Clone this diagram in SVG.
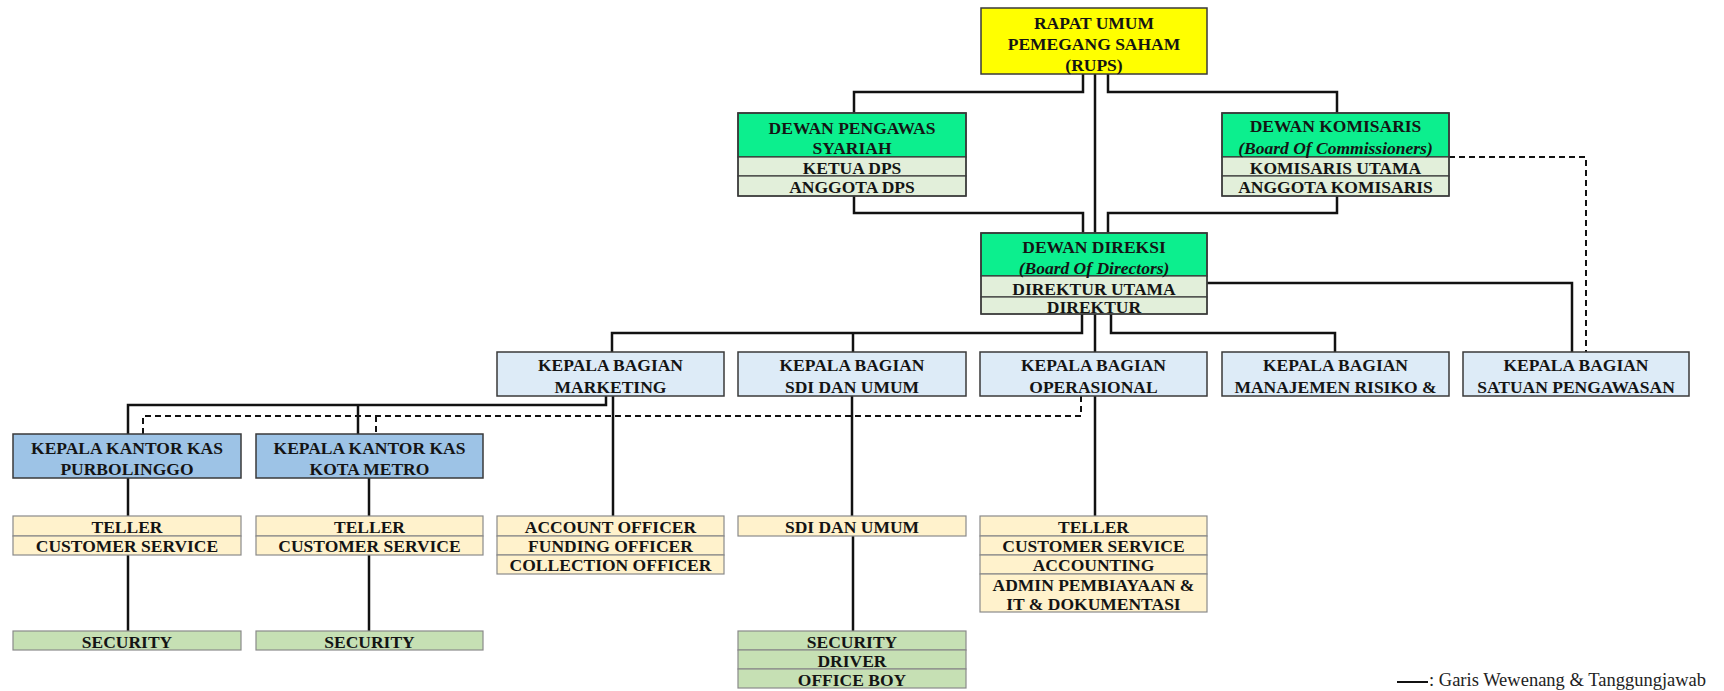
<svg xmlns="http://www.w3.org/2000/svg" width="1724" height="691" viewBox="0 0 1724 691">
<style>
.t{font-family:"Liberation Serif","Times New Roman",serif;font-size:17.5px;font-weight:bold;fill:#141414;text-anchor:middle}
.i{font-style:italic}
.hd{stroke:#3a3a3a;stroke-width:1.5}
.rw{stroke:#8a8a8a;stroke-width:1.2}
.rd{stroke:#3a3a3a;stroke-width:1.2}
.y{fill:#FFFF00}
.g{fill:#0CEF8E}
.lg{fill:#E2EFDA}
.lb{fill:#DDEBF7}
.mb{fill:#9DC3E6}
.ly{fill:#FFF2CC}
.sg{fill:#C6E0B4}
.c{fill:none;stroke:#111;stroke-width:2.5}
.d{fill:none;stroke:#111;stroke-width:2;stroke-dasharray:6 4}
.lgd{font-family:"Liberation Serif","Times New Roman",serif;font-size:18.5px;fill:#222}
</style>
<rect width="1724" height="691" fill="#fff"/>

<g id="connectors">
<path class="c" d="M1083 74 V92 H854 V113"/>
<path class="c" d="M1095 74 V233"/>
<path class="c" d="M1108 74 V92 H1337 V113"/>
<path class="c" d="M854 196 V213 H1083 V233"/>
<path class="c" d="M1337 196 V213 H1108 V233"/>
<path class="d" d="M1449 157 H1586 V352"/>
<path class="c" d="M1207 283 H1572 V352"/>
<path class="c" d="M1082 314 V333 H612 V352"/>
<path class="c" d="M853 333 V352"/>
<path class="c" d="M1095 314 V352"/>
<path class="c" d="M1111 314 V333 H1335 V352"/>
<path class="c" d="M606 396 V405 H128 V434"/>
<path class="c" d="M358 405 V434"/>
<path class="d" d="M1081 396 V416 H143 V434"/>
<path class="d" d="M376 416 V434"/>
<path class="c" d="M128 478 V516"/>
<path class="c" d="M128 555 V631"/>
<path class="c" d="M369 478 V516"/>
<path class="c" d="M369 555 V631"/>
<path class="c" d="M613 396 V516"/>
<path class="c" d="M852 396 V516"/>
<path class="c" d="M853 536 V631"/>
<path class="c" d="M1095 396 V516"/>
</g>

<g id="rups">
<rect class="y hd" x="981" y="8" width="226" height="66"/>
<text class="t" x="1094" y="29">RAPAT UMUM</text>
<text class="t" x="1094" y="50">PEMEGANG SAHAM</text>
<text class="t" x="1094" y="71">(RUPS)</text>
</g>

<g id="dps">
<rect class="g hd" x="738" y="113" width="228" height="44"/>
<rect class="lg rd" x="738" y="157" width="228" height="19"/>
<rect class="lg rd" x="738" y="176" width="228" height="20"/>
<rect fill="none" class="hd" x="738" y="113" width="228" height="83"/>
<text class="t" x="852" y="134">DEWAN PENGAWAS</text>
<text class="t" x="852" y="154">SYARIAH</text>
<text class="t" x="852" y="174">KETUA DPS</text>
<text class="t" x="852" y="193">ANGGOTA DPS</text>
</g>

<g id="komisaris">
<rect class="g hd" x="1222" y="113" width="227" height="44"/>
<rect class="lg rd" x="1222" y="157" width="227" height="19"/>
<rect class="lg rd" x="1222" y="176" width="227" height="20"/>
<rect fill="none" class="hd" x="1222" y="113" width="227" height="83"/>
<text class="t" x="1335.5" y="132">DEWAN KOMISARIS</text>
<text class="t i" x="1335.5" y="154">(Board Of Commissioners)</text>
<text class="t" x="1335.5" y="174">KOMISARIS UTAMA</text>
<text class="t" x="1335.5" y="193">ANGGOTA KOMISARIS</text>
</g>

<g id="direksi">
<rect class="g hd" x="981" y="233" width="226" height="43"/>
<rect class="lg rd" x="981" y="276" width="226" height="21"/>
<rect class="lg rd" x="981" y="297" width="226" height="17"/>
<rect fill="none" class="hd" x="981" y="233" width="226" height="81"/>
<text class="t" x="1094" y="253">DEWAN DIREKSI</text>
<text class="t i" x="1094" y="274">(Board Of Directors)</text>
<text class="t" x="1094" y="295">DIREKTUR UTAMA</text>
<text class="t" x="1094" y="313">DIREKTUR</text>
</g>

<g id="kb-marketing">
<rect class="lb hd" x="497" y="352" width="227" height="44"/>
<text class="t" x="610.5" y="371">KEPALA BAGIAN</text>
<text class="t" x="610.5" y="393">MARKETING</text>
</g>
<g id="kb-sdi">
<rect class="lb hd" x="738" y="352" width="228" height="44"/>
<text class="t" x="852" y="371">KEPALA BAGIAN</text>
<text class="t" x="852" y="393">SDI DAN UMUM</text>
</g>
<g id="kb-operasional">
<rect class="lb hd" x="980" y="352" width="227" height="44"/>
<text class="t" x="1093.5" y="371">KEPALA BAGIAN</text>
<text class="t" x="1093.5" y="393">OPERASIONAL</text>
</g>
<g id="kb-risiko">
<rect class="lb hd" x="1222" y="352" width="227" height="44"/>
<text class="t" x="1335.5" y="371">KEPALA BAGIAN</text>
<text class="t" x="1335.5" y="393">MANAJEMEN RISIKO &amp;</text>
</g>
<g id="kb-satuan">
<rect class="lb hd" x="1463" y="352" width="226" height="44"/>
<text class="t" x="1576" y="371">KEPALA BAGIAN</text>
<text class="t" x="1576" y="393">SATUAN PENGAWASAN</text>
</g>

<g id="kk-purbolinggo">
<rect class="mb hd" x="13" y="434" width="228" height="44"/>
<text class="t" x="127" y="454">KEPALA KANTOR KAS</text>
<text class="t" x="127" y="475">PURBOLINGGO</text>
</g>
<g id="kk-metro">
<rect class="mb hd" x="256" y="434" width="227" height="44"/>
<text class="t" x="369.5" y="454">KEPALA KANTOR KAS</text>
<text class="t" x="369.5" y="475">KOTA METRO</text>
</g>

<g id="staff-purbolinggo">
<rect class="ly rw" x="13" y="516" width="228" height="20"/>
<rect class="ly rw" x="13" y="536" width="228" height="19"/>
<text class="t" x="127" y="533">TELLER</text>
<text class="t" x="127" y="552">CUSTOMER SERVICE</text>
</g>
<g id="staff-metro">
<rect class="ly rw" x="256" y="516" width="227" height="20"/>
<rect class="ly rw" x="256" y="536" width="227" height="19"/>
<text class="t" x="369.5" y="533">TELLER</text>
<text class="t" x="369.5" y="552">CUSTOMER SERVICE</text>
</g>
<g id="staff-marketing">
<rect class="ly rw" x="497" y="516" width="227" height="20"/>
<rect class="ly rw" x="497" y="536" width="227" height="19"/>
<rect class="ly rw" x="497" y="555" width="227" height="19"/>
<text class="t" x="610.5" y="533">ACCOUNT OFFICER</text>
<text class="t" x="610.5" y="552">FUNDING OFFICER</text>
<text class="t" x="610.5" y="571">COLLECTION OFFICER</text>
</g>
<g id="staff-sdi">
<rect class="ly rw" x="738" y="516" width="228" height="20"/>
<text class="t" x="852" y="533">SDI DAN UMUM</text>
</g>
<g id="staff-operasional">
<rect class="ly rw" x="980" y="516" width="227" height="20"/>
<rect class="ly rw" x="980" y="536" width="227" height="19"/>
<rect class="ly rw" x="980" y="555" width="227" height="19"/>
<rect class="ly rw" x="980" y="574" width="227" height="38"/>
<text class="t" x="1093.5" y="533">TELLER</text>
<text class="t" x="1093.5" y="552">CUSTOMER SERVICE</text>
<text class="t" x="1093.5" y="571">ACCOUNTING</text>
<text class="t" x="1093.5" y="591">ADMIN PEMBIAYAAN &amp;</text>
<text class="t" x="1093.5" y="610">IT &amp; DOKUMENTASI</text>
</g>

<g id="security-purbolinggo">
<rect class="sg rw" x="13" y="631" width="228" height="19"/>
<text class="t" x="127" y="648">SECURITY</text>
</g>
<g id="security-metro">
<rect class="sg rw" x="256" y="631" width="227" height="19"/>
<text class="t" x="369.5" y="648">SECURITY</text>
</g>
<g id="security-sdi">
<rect class="sg rw" x="738" y="631" width="228" height="19"/>
<rect class="sg rw" x="738" y="650" width="228" height="19"/>
<rect class="sg rw" x="738" y="669" width="228" height="19"/>
<text class="t" x="852" y="648">SECURITY</text>
<text class="t" x="852" y="667">DRIVER</text>
<text class="t" x="852" y="686">OFFICE BOY</text>
</g>

<g id="legend">
<line x1="1397" y1="682" x2="1428" y2="682" stroke="#111" stroke-width="2"/>
<text class="lgd" x="1429" y="686">: Garis Wewenang &amp; Tanggungjawab</text>
</g>
</svg>
